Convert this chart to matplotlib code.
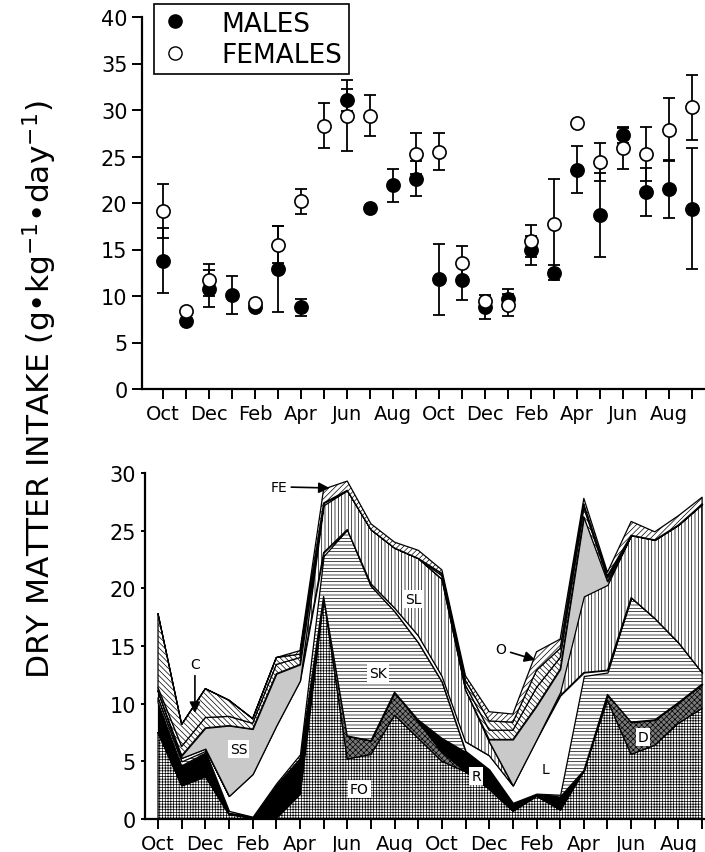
import numpy as np
import matplotlib
matplotlib.use("Agg")
import matplotlib.pyplot as plt
from matplotlib.lines import Line2D

plt.rcParams["font.family"] = ["DejaVu Sans"]
plt.rcParams["hatch.linewidth"] = 0.5
plt.rcParams["hatch.color"] = "black"

nan = np.nan

# months from Oct (year 1) to Sep (year 2)
MONTHS = list(range(24))
MONTH_LABELS = ["Oct", "", "Dec", "", "Feb", "", "Apr", "", "Jun", "", "Aug", ""] * 2

# top panel: dry matter intake by sex (mean, error)
MALES = [13.8, 7.3, 10.8, 10.1, 8.8, 12.9, 8.8, nan, 31.1, 19.5, 21.9, 22.6,
         11.8, 11.7, 8.8, 9.7, 14.9, 12.5, 23.6, 18.7, 27.3, 21.2, 21.5, 19.4]
MALES_ERR = [3.5, nan, 2.0, 2.0, nan, 4.6, 0.9, nan, 1.2, nan, 1.8, 1.9,
             3.8, 2.1, 1.3, 1.1, 1.6, 0.8, 2.5, 4.5, 0.9, 2.6, 3.1, 6.5]
FEMALES = [19.1, 8.4, 11.7, nan, 9.2, 15.5, 20.2, 28.3, 29.4, 29.4, nan, 25.3,
           25.5, 13.6, 9.5, 9.0, 15.9, 17.7, 28.6, 24.4, 25.9, 25.3, 27.9, 30.3]
FEMALES_ERR = [2.9, nan, 1.7, nan, nan, 2.0, 1.35, 2.4, 3.8, 2.2, nan, 2.2,
               2.0, 1.8, nan, 1.2, 1.7, 4.9, nan, 2.0, 2.2, 2.9, 3.4, 3.5]

# bottom panel: diet composition (stacked, bottom to top)
FO = [7.5, 2.9, 3.7, 0.4, 0.1, 0.1, 2.2, 19.3, 5.2, 5.6, 9.0, 7.0,
      5.0, 4.1, 2.6, 0.7, 2.0, 0.8, 4.2, 10.3, 5.6, 6.4, 8.3, 9.6]
D = [0, 0, 0, 0, 0, 0, 0, 0, 2.0, 1.2, 2.0, 1.4,
     0.8, 0, 0, 0, 0, 0, 0, 0.5, 2.8, 2.2, 1.8, 2.1]
R = [2.6, 1.7, 2.0, 0.1, 0.1, 2.8, 3.0, 0, 0, 0, 0, 0.2,
     1.2, 1.7, 1.7, 0.7, 0.2, 1.1, 0, 0, 0, 0, 0, 0]
SK = [0.4, 0.4, 0.2, 0.2, 0, 0.2, 0.4, 3.5, 17.9, 13.4, 7.0, 6.7,
      4.9, 0.1, 0, 0, 0, 0.2, 8.2, 1.9, 10.8, 8.8, 5.2, 1.0]
L = [0.6, 0.3, 0.2, 1.3, 3.7, 5.0, 6.4, 0.3, 0, 0.2, 0.3, 0.6,
     0.5, 0.8, 1.2, 1.5, 4.7, 8.6, 0.3, 0.2, 0, 0, 0, 0]
SL = [0, 0, 0, 0, 0, 0, 0, 4.1, 3.4, 4.7, 5.2, 6.7,
      8.4, 4.5, 1.2, 0, 0, 0.3, 6.6, 7.4, 5.4, 6.8, 10.2, 14.6]
SS = [0, 0.2, 1.8, 6.1, 3.9, 4.5, 1.4, 0.2, 0, 0, 0, 0,
      0, 0, 0.2, 4.0, 2.9, 2.0, 6.9, 0.3, 0, 0, 0, 0]
O = [0.3, 0.8, 0.9, 0.8, 0.5, 0.8, 0.6, 0, 0, 0, 0, 0,
     0.3, 0.4, 0.8, 0.8, 1.6, 1.0, 0.8, 0.3, 0, 0, 0, 0]
C = [6.4, 1.9, 2.5, 1.4, 0.4, 0.6, 0.3, 0, 0, 0, 0, 0,
     0.2, 0.4, 0.8, 0.7, 1.5, 0.8, 0.3, 0.2, 0, 0, 0, 0]
FE = [0, 0, 0, 0, 0, 0, 0.3, 1.2, 0.8, 0.5, 0.5, 0.7,
      0.3, 0.4, 0.8, 0.7, 1.6, 0.8, 0.5, 0.3, 1.2, 0.7, 0.8, 0.6]

LAYERS = [FO, D, R, SK, L, SL, SS, O, C, FE]
FACES = ["white", "#7a7a7a", "black", "white", "white", "white", "#c9c9c9",
         "white", "white", "white"]
HATCHES = ["++++++", "xxxxxx", None, "-----", None, "|||||", None,
           "\\\\\\\\\\\\", "\\\\\\\\\\\\", "//////"]

fig = plt.figure(figsize=(7.05, 8.53), dpi=100)
ax1 = fig.add_axes([142 / 705, 463 / 853, 563 / 705, 372 / 853])
ax2 = fig.add_axes([145 / 705, 33 / 853, 559 / 705, 346 / 853])

# ---- top panel ----
ax1.errorbar(MONTHS, MALES, yerr=MALES_ERR, fmt="none", ecolor="black",
             elinewidth=1.3, capsize=4.5, capthick=1.3)
ax1.errorbar(MONTHS, FEMALES, yerr=FEMALES_ERR, fmt="none", ecolor="black",
             elinewidth=1.3, capsize=4.5, capthick=1.3)
ax1.plot(MONTHS, MALES, "o", ms=9.5, mfc="black", mec="black", mew=1.2)
ax1.plot(MONTHS, FEMALES, "o", ms=9.5, mfc="white", mec="black", mew=1.2)

ax1.set_xlim(-0.91, 23.57)
ax1.set_ylim(0, 40)
ax1.set_yticks(range(0, 41, 5))
ax1.set_xticks(MONTHS)
ax1.set_xticklabels(MONTH_LABELS)

handles = [Line2D([], [], ls="", marker="o", ms=9.5, mfc="black", mec="black"),
           Line2D([], [], ls="", marker="o", ms=9.5, mfc="white", mec="black")]
leg = ax1.legend(handles, ["MALES", "FEMALES"], loc="upper left",
                 bbox_to_anchor=(0.021, 1.035), borderaxespad=0, fontsize=19,
                 fancybox=False, edgecolor="black", framealpha=1,
                 borderpad=0.25, labelspacing=0.2, handlelength=1.1,
                 handletextpad=1.2)
leg.get_frame().set_linewidth(1.2)

# ---- bottom panel ----
base = np.zeros(len(MONTHS))
for vals, fc, h in zip(LAYERS, FACES, HATCHES):
    top = base + np.array(vals)
    ax2.fill_between(MONTHS, base, top, facecolor=fc, hatch=h,
                     edgecolor="black", linewidth=0.9)
    base = top

ax2.set_xlim(-0.55, 23.08)
ax2.set_ylim(0, 30)
ax2.set_yticks(range(0, 31, 5))
ax2.set_xticks(MONTHS)
ax2.set_xticklabels(MONTH_LABELS)

box = dict(boxstyle="square,pad=0.15", fc="white", ec="none")
for txt, xx, yy in [("SS", 3.4, 6.1), ("FO", 8.5, 2.6), ("SK", 9.3, 12.7),
                    ("SL", 10.8, 19.1), ("R", 13.45, 3.7), ("L", 16.4, 4.3),
                    ("D", 20.5, 7.1)]:
    ax2.text(xx, yy, txt, fontsize=10, ha="center", va="center", bbox=box)

arrow = dict(arrowstyle="-|>", color="black", lw=1.2, mutation_scale=16,
             shrinkA=1, shrinkB=0)
ax2.annotate("FE", xy=(7.25, 28.7), xytext=(5.1, 28.8), fontsize=10,
             ha="center", va="center", arrowprops=arrow)
ax2.annotate("C", xy=(1.56, 9.2), xytext=(1.56, 13.4), fontsize=10,
             ha="center", va="center", arrowprops=arrow)
ax2.annotate("O", xy=(15.95, 13.8), xytext=(14.5, 14.7), fontsize=10,
             ha="center", va="center", arrowprops=arrow)

for ax in (ax1, ax2):
    ax.spines["top"].set_visible(False)
    ax.spines["right"].set_visible(False)
    ax.spines["left"].set_linewidth(1.6)
    ax.spines["bottom"].set_linewidth(1.6)
    ax.tick_params(direction="out", length=7, width=1.4, labelsize=14)
    ax.tick_params(axis="y", labelsize=15)
ax2.tick_params(axis="y", length=3)

fig.text(40 / 705, 463 / 853,
         "DRY MATTER INTAKE (g\u2022kg$^{-1}$\u2022day$^{-1}$)",
         rotation=90, ha="center", va="center", fontsize=22.5)

fig.savefig("out.png", dpi=100)
